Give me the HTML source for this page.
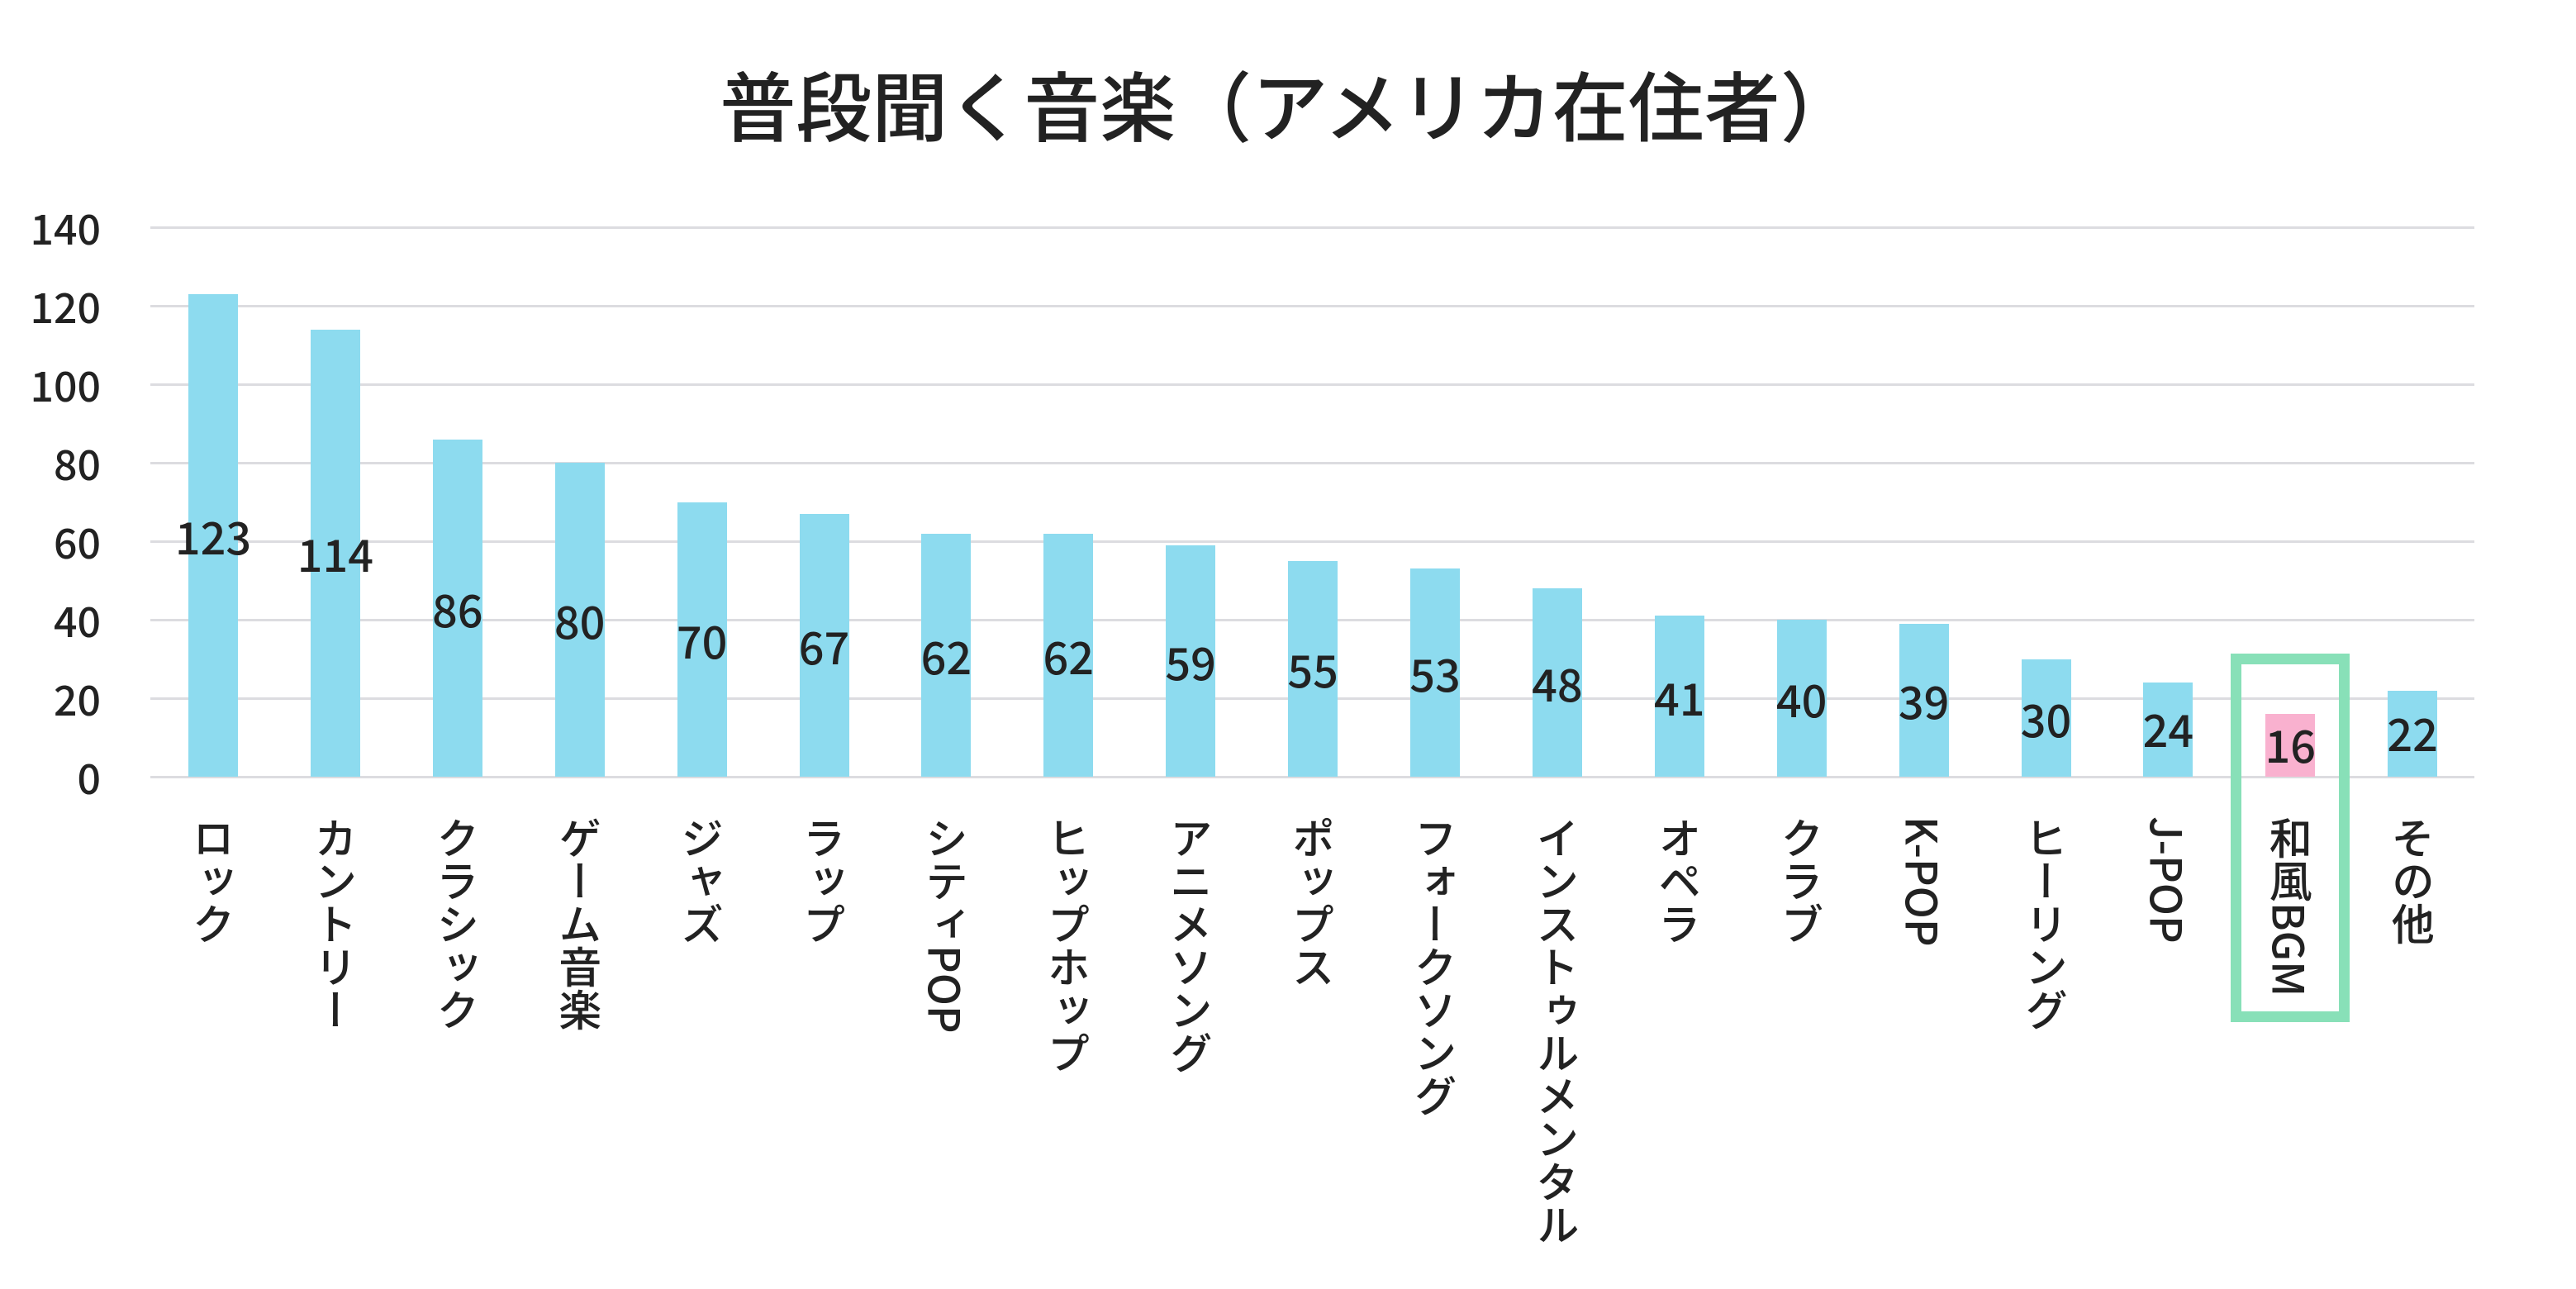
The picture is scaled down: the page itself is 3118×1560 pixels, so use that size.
<!DOCTYPE html>
<html><head><meta charset="utf-8"><style>
html,body{margin:0;padding:0;background:#fff;}
body{width:3118px;height:1560px;position:relative;overflow:hidden;font-family:"Noto Sans CJK JP","Liberation Sans",sans-serif;color:#222;font-weight:500;}
.t{position:absolute;left:24px;width:3070px;top:70px;text-align:center;font-size:92px;line-height:110px;}
.g{position:absolute;left:182px;width:2813px;height:3px;background:#dcdce0;}
.yl{position:absolute;left:0;width:122px;text-align:right;font-size:50px;line-height:60px;}
.b{position:absolute;width:60px;background:#8ddbef;}
.v{position:absolute;width:160px;text-align:center;font-size:54px;line-height:60px;}
.x{position:absolute;top:988px;width:60px;writing-mode:vertical-rl;text-orientation:mixed;font-size:52px;line-height:60px;}
</style></head><body>
<div class="t">普段聞く音楽（アメリカ在住者）</div>
<div class="g" style="top:274px"></div>
<div class="g" style="top:369px"></div>
<div class="g" style="top:464px"></div>
<div class="g" style="top:559px"></div>
<div class="g" style="top:654px"></div>
<div class="g" style="top:749px"></div>
<div class="g" style="top:844px"></div>
<div class="g" style="top:939px"></div>
<div class="yl" style="top:245px">140</div>
<div class="yl" style="top:340px">120</div>
<div class="yl" style="top:435px">100</div>
<div class="yl" style="top:530px">80</div>
<div class="yl" style="top:625px">60</div>
<div class="yl" style="top:720px">40</div>
<div class="yl" style="top:815px">20</div>
<div class="yl" style="top:910px">0</div>
<div style="position:absolute;left:2700px;top:791px;width:118px;height:420px;border:13px solid #88e0b8;"></div>
<div id="c"></div>
<script>
(function(){
var d=[["ロック",123],["カントリー",114],["クラシック",86],["ゲーム音楽",80],["ジャズ",70],["ラップ",67],["シティPOP",62],["ヒップホップ",62],["アニメソング",59],["ポップス",55],["フォークソング",53],["インストゥルメンタル",48],["オペラ",41],["クラブ",40],["K-POP",39],["ヒーリング",30],["J-POP",24],["和風BGM",16],["その他",22]];
var h="";
for(var i=0;i<d.length;i++){
 var cx=258+i*147.9, v=d[i][1], bh=v*4.75, y0=940-bh;
 h+='<div class="b" style="left:'+(cx-30)+'px;top:'+y0+'px;height:'+bh+'px;'+(i==17?'background:#f9b1cf;':'')+'"></div>';
 var ly=y0+bh/2-30; if(v<25) ly=y0+bh/2-32;
 h+='<div class="v" style="left:'+(cx-80)+'px;top:'+ly+'px">'+v+'</div>';
 h+='<div class="x" style="left:'+(cx-30)+'px">'+d[i][0]+'</div>';
}
document.getElementById("c").innerHTML=h;
})();
</script>
</body></html>
